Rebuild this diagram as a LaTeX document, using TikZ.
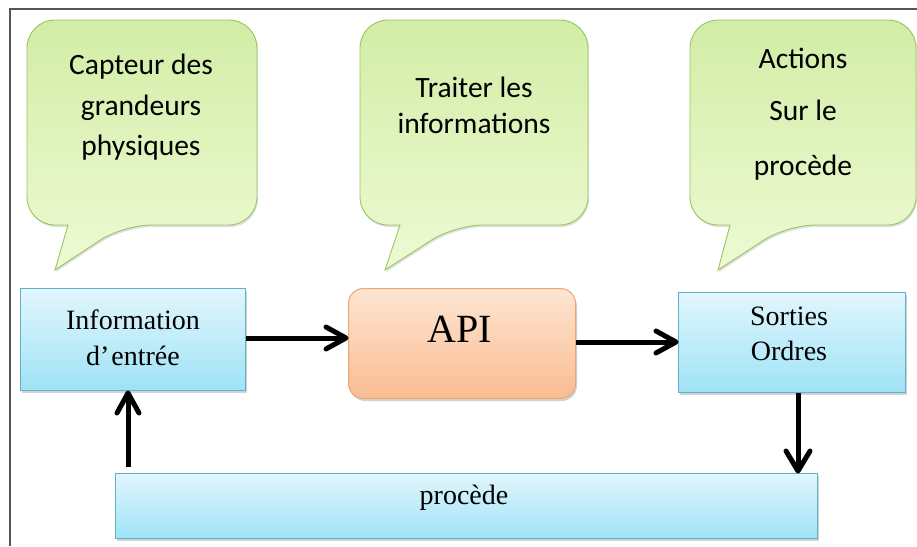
\documentclass[tikz,border=0pt]{standalone}
\usepackage{fontspec}
\setmainfont{Liberation Serif}
\newfontfamily\bubblefont{Carlito}
\usetikzlibrary{arrows.meta,shadows}

\definecolor{bubtop}{RGB}{210,237,166}
\definecolor{bubbot}{RGB}{238,250,212}
\definecolor{bubedge}{RGB}{150,198,96}
\definecolor{bluetop}{RGB}{226,246,253}
\definecolor{bluebot}{RGB}{158,227,246}
\definecolor{blueedge}{RGB}{96,176,200}
\definecolor{orgtop}{RGB}{253,229,210}
\definecolor{orgbot}{RGB}{250,188,146}
\definecolor{orgedge}{RGB}{236,166,116}
\definecolor{framegray}{RGB}{85,85,85}

\begin{document}
\begin{tikzpicture}[x=1pt,y=-1pt,
  frameline/.style={draw=framegray, line width=2pt},
  bubble/.style={draw=bubedge, line width=0.9pt, top color=bubtop, bottom color=bubbot,
    drop shadow={shadow xshift=1pt, shadow yshift=-2pt, opacity=0.25}},
  bubtext/.style={font=\bubblefont\fontsize{29.5}{33}\selectfont, anchor=base, inner sep=0pt},
  bluebox/.style={draw=blueedge, line width=1pt, top color=bluetop, bottom color=bluebot,
    inner sep=0pt, anchor=north west,
    drop shadow={shadow xshift=1.5pt, shadow yshift=-2.5pt, opacity=0.35}},
  apibox/.style={draw=orgedge, line width=1pt, top color=orgtop, bottom color=orgbot,
    rounded corners=15pt, inner sep=0pt, anchor=north west,
    drop shadow={shadow xshift=1.5pt, shadow yshift=-2.5pt, opacity=0.35}},
  boxtext/.style={font=\fontsize{28}{33}\selectfont, anchor=base, inner sep=0pt},
  shaft/.style={line width=5pt},
  chevron/.style={line width=5pt, line cap=round, line join=round},
]
\useasboundingbox (0,0) rectangle (917,546);

% outer frame (left and top edges)
\draw[frameline] (10,546) -- (10,9) -- (917,9);

% speech bubbles
\draw[bubble] (27,120) [rounded corners=28pt] -- (27,20) -- (257,20) -- (257,225)
  -- (123,225) [sharp corners] -- (55,270) -- (68,225) [rounded corners=28pt] -- (27,225) -- cycle;
\draw[bubble] (360,120) [rounded corners=28pt] -- (360,20) -- (588,20) -- (588,225)
  -- (455,225) [sharp corners] -- (385,270) -- (400,225) [rounded corners=28pt] -- (360,225) -- cycle;
\draw[bubble] (690,120) [rounded corners=28pt] -- (690,20) -- (916,20) -- (916,225)
  -- (787,225) [sharp corners] -- (718,270) -- (730,225) [rounded corners=28pt] -- (690,225) -- cycle;

\node[bubtext] (c1) at (141,74) {Capteur des};
\node[bubtext] (c2) at (141,115) {grandeurs};
\node[bubtext] (c3) at (141,155) {physiques};

\node[bubtext] (t1) at (474,97) {Traiter les};
\node[bubtext] (t2) at (474,133) {informations};

\node[bubtext] (a1) at (803,68) {Actions};
\node[bubtext] (a2) at (803,120) {Sur le};
\node[bubtext] (a3) at (803,175) {procède};

% process boxes
\node[bluebox, minimum width=225pt, minimum height=102pt] (info) at (20,288) {};
\node[apibox, minimum width=227pt, minimum height=110pt] (api) at (348,288) {};
\node[bluebox, minimum width=227pt, minimum height=100pt] (sort) at (678,292) {};
\node[bluebox, minimum width=702pt, minimum height=65pt] (proc) at (115,473) {};

\node[boxtext] (info1) at (133,329) {Information};
\node[boxtext] (info2) at (133,365) {d’\kern2pt entrée};
\node[font=\fontsize{40}{44}\selectfont, anchor=base, inner sep=0pt] (apitxt) at (460,342) {API};
\node[boxtext] (sort1) at (789,325) {Sorties};
\node[boxtext] (sort2) at (789,360) {Ordres};
\node[boxtext] (proctxt) at (464,504) {procède};

% arrow tips: end points of the four connectors
\coordinate (tipA) at ([xshift=-2pt]api.west |- 0,338);
\coordinate (tipB) at ([xshift=-2pt]sort.west |- 0,342);
\coordinate (tipC) at ([yshift=2pt]proc.north -| 798,0);
\coordinate (tipD) at ([yshift=-2pt]info.south -| 128,0);

% signal flow
\draw[shaft] (info.east |- 0,338) -- (tipA);
\draw[chevron] ([xshift=-20pt,yshift=11pt]tipA) -- (tipA) -- ([xshift=-20pt,yshift=-11pt]tipA);
\draw[shaft] (api.east |- 0,342) -- (tipB);
\draw[chevron] ([xshift=-20pt,yshift=11pt]tipB) -- (tipB) -- ([xshift=-20pt,yshift=-11pt]tipB);
\draw[shaft] (sort.south -| 798,0) -- (tipC);
\draw[chevron] ([xshift=-12pt,yshift=20pt]tipC) -- (tipC) -- ([xshift=12pt,yshift=20pt]tipC);
\draw[shaft] ([yshift=6pt]proc.north -| 128,0) -- (tipD);
\draw[chevron] ([xshift=-11pt,yshift=-20pt]tipD) -- (tipD) -- ([xshift=11pt,yshift=-20pt]tipD);
\end{tikzpicture}
\end{document}
